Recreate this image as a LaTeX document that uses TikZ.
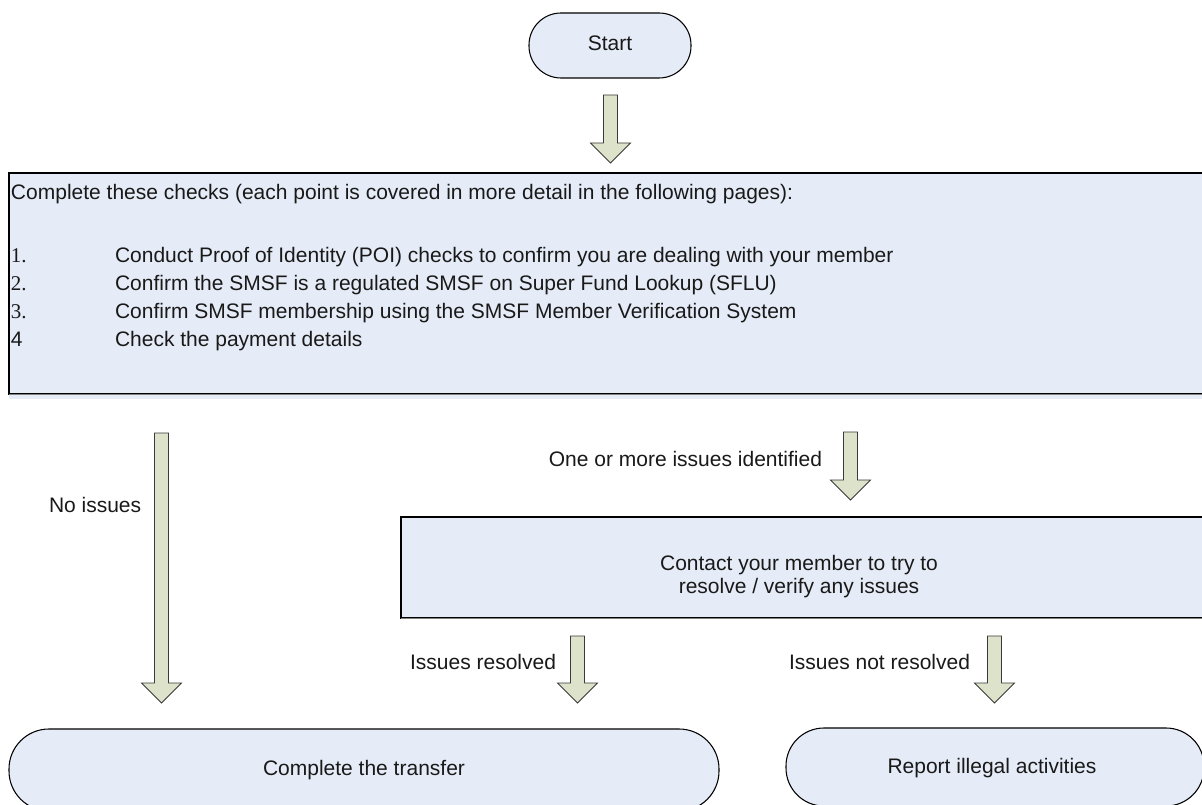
\documentclass[tikz,border=0pt]{standalone}
\usepackage{fontspec}
\setmainfont{Liberation Sans}
\newfontfamily\numserif{Liberation Serif}
\usetikzlibrary{calc}
\definecolor{boxfill}{HTML}{E6ECF7}
\definecolor{arrfill}{HTML}{DDE2CB}
\definecolor{arrline}{HTML}{3A3A3A}
\tikzset{
  px/.style={x=0.75pt,y=-0.75pt},
  panel/.style={draw=black,line width=0.8pt,fill=boxfill,inner sep=0pt,outer sep=0pt},
  term/.style={panel,rectangle},
  txt/.style={font=\fontsize{15.75pt}{19pt}\selectfont,inner sep=0pt,outer sep=0pt,text=black!90},
  barrow/.style={draw=arrline,line width=0.6pt,fill=arrfill,line join=miter},
}
\newcommand\blockarr[2]{%
  \draw[barrow] ($(#1)+(-7,0)$) -- ($(#2)+(-7,-20)$) -- ($(#2)+(-20,-20)$) -- (#2)
    -- ($(#2)+(20,-20)$) -- ($(#2)+(7,-20)$) -- ($(#1)+(7,0)$) -- cycle;}
\begin{document}
\begin{tikzpicture}[px]
\useasboundingbox (0,0) rectangle (1202,805);
\clip (0,0) rectangle (1202,805);
\fill[white] (0,0) rectangle (1202,805);

% Start
\node[term,rounded corners=24pt,minimum width=121.5pt,minimum height=48.75pt] (start) at (610,45.5) {};
\node[txt,anchor=base] (starttxt) at (610,51) {Start};

% big checks box
\fill[boxfill] (9,394) rectangle (1210,399);
\node[panel,minimum width=900.75pt,minimum height=165.75pt] (checks) at (609.5,283.5) {};
\draw[gray,line width=1pt] (9,394.5) -- (1210,394.5);
\node[txt,anchor=base west] (l0) at (11,200) {Complete these checks (each point is covered in more detail in the following pages):};
\node[txt,anchor=base west] (n1) at (11,263) {\numserif 1.};
\node[txt,anchor=base west] (t1) at (115,263) {Conduct Proof of Identity (POI) checks to confirm you are dealing with your member};
\node[txt,anchor=base west] (n2) at (11,291) {\numserif 2.};
\node[txt,anchor=base west] (t2) at (115,291) {Confirm the SMSF is a regulated SMSF on Super Fund Lookup (SFLU)};
\node[txt,anchor=base west] (n3) at (11,319) {\numserif 3.};
\node[txt,anchor=base west] (t3) at (115,319) {Confirm SMSF membership using the SMSF Member Verification System};
\node[txt,anchor=base west] (n4) at (11,347) {4};
\node[txt,anchor=base west] (t4) at (115,347) {Check the payment details};

% contact box
\node[panel,minimum width=606.75pt,minimum height=75.75pt] (contact) at (805.5,567.5) {};
\draw[gray,line width=1pt] (401,618.5) -- (1210,618.5);
\node[txt,anchor=base] (c1) at (799,570) {Contact your member to try to};
\node[txt,anchor=base] (c2) at (799,593) {resolve / verify any issues};

% terminals
\node[term,rounded corners=30pt,minimum width=532.5pt,minimum height=61.5pt] (complete) at (364,770) {};
\node[txt,anchor=base] (completetxt) at (364,775) {Complete the transfer};
\node[term,rounded corners=28.5pt,minimum width=313.5pt,minimum height=58.5pt] (report) at (995,767) {};
\node[txt,anchor=base] (reporttxt) at (992,773) {Report illegal activities};

% arrows
\coordinate (a1s) at (610.5,95);  \coordinate (a1e) at (610.5,163);
\coordinate (a2s) at (161.5,433); \coordinate (a2e) at (161.5,703);
\coordinate (a3s) at (850.5,432); \coordinate (a3e) at (850.5,500);
\coordinate (a4s) at (577.5,636); \coordinate (a4e) at (577.5,703);
\coordinate (a5s) at (994.5,636); \coordinate (a5e) at (994.5,703);
\blockarr{a1s}{a1e}
\blockarr{a2s}{a2e}
\blockarr{a3s}{a3e}
\blockarr{a4s}{a4e}
\blockarr{a5s}{a5e}

% labels
\node[txt,anchor=base west] (noiss) at (49,512) {No issues};
\node[txt,anchor=base east] (oneormore) at (822,466) {One or more issues identified};
\node[txt,anchor=base east] (resolved) at (556,669) {Issues resolved};
\node[txt,anchor=base east] (notresolved) at (970,669) {Issues not resolved};
\end{tikzpicture}
\end{document}
